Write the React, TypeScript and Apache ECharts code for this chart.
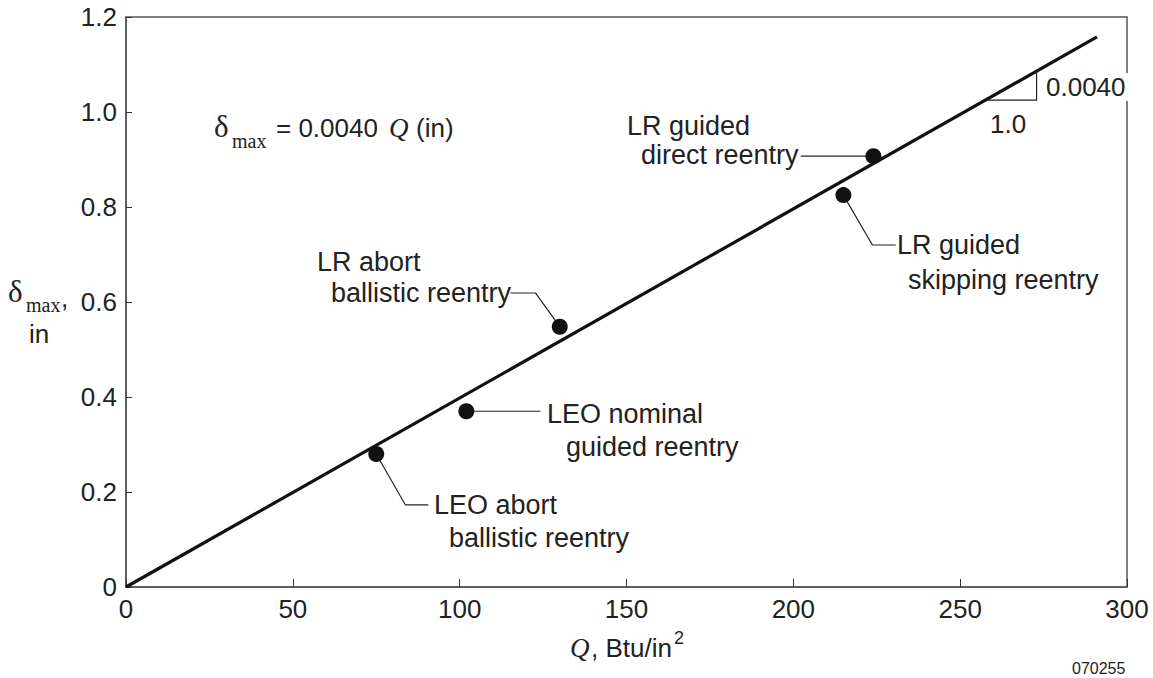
import React, { useEffect, useRef } from "react";
import * as echarts from "echarts";

const xTicks = [0, 50, 100, 150, 200, 250, 300];
const yTicks = [0, 0.2, 0.4, 0.6, 0.8, 1.0, 1.2];
const fitLine = [[0, 0], [291, 1.158]];
const pointNames = [
  "LEO abort ballistic reentry",
  "LEO nominal guided reentry",
  "LR abort ballistic reentry",
  "LR guided skipping reentry",
  "LR guided direct reentry",
];
const pointQ = [75, 102, 130, 215, 224];
const pointDelta = [0.28, 0.37, 0.548, 0.825, 0.907];
const leaderLines = [
  [[75, 0.28], [83.7, 0.173], [90.6, 0.173]],
  [[102, 0.37], [124.2, 0.37]],
  [[130, 0.548], [122.7, 0.619], [115.2, 0.619]],
  [[215, 0.825], [223.7, 0.72], [230.7, 0.72]],
  [[202.2, 0.907], [224, 0.907]],
];
const slopeTriangle = [[258.2, 1.025], [272.9, 1.025], [272.9, 1.084]];

const SANS = "'Liberation Sans', Arial, Helvetica, sans-serif";
const SERIF = "'Liberation Serif', 'Times New Roman', serif";

function txt(text: string, x: number, y: number, size: number, font = SANS, extra: any = {}) {
  return {
    type: "text",
    x,
    y,
    z: 100,
    style: {
      text,
      fontSize: size,
      fontFamily: font,
      fill: "#222",
      textAlign: "left",
      textVerticalAlign: "middle",
      ...extra,
    },
  };
}

export default function App() {
  const ref = useRef<HTMLDivElement>(null);
  useEffect(() => {
    if (!ref.current) return;
    const chart = echarts.init(ref.current, undefined, { renderer: "svg" });
    const series: any[] = [
      {
        type: "line",
        data: fitLine,
        showSymbol: false,
        symbol: "none",
        lineStyle: { color: "#111", width: 3.2 },
        z: 3,
      },
      {
        type: "line",
        data: slopeTriangle,
        symbol: "none",
        lineStyle: { color: "#222", width: 1.2 },
        z: 3,
      },
      ...leaderLines.map((l) => ({
        type: "line",
        data: l,
        symbol: "none",
        lineStyle: { color: "#222", width: 1.2 },
        z: 3,
      })),
      {
        type: "scatter",
        data: pointQ.map((q, i) => ({ name: pointNames[i], value: [q, pointDelta[i]] })),
        symbol: "circle",
        symbolSize: 16,
        itemStyle: { color: "#111", opacity: 1 },
        z: 10,
      },
    ];
    chart.setOption({
      animation: false,
      backgroundColor: "#fff",
      grid: {
        left: 126,
        right: 26,
        top: 17,
        bottom: 91,
        show: true,
        borderColor: "#555",
        borderWidth: 1.5,
      },
      xAxis: {
        type: "value",
        min: 0,
        max: 300,
        interval: 50,
        axisLine: { show: true, lineStyle: { color: "#555", width: 1.5 } },
        axisTick: { show: true, inside: true, length: 8, lineStyle: { color: "#333" } },
        splitLine: { show: false },
        axisLabel: {
          color: "#222",
          fontSize: 26,
          fontFamily: SANS,
          margin: 9,
          formatter: (v: number) => (xTicks.includes(v) ? String(v) : ""),
        },
      },
      yAxis: {
        type: "value",
        min: 0,
        max: 1.2,
        interval: 0.2,
        axisLine: { show: true, lineStyle: { color: "#555", width: 1.5 } },
        axisTick: { show: true, inside: true, length: 6, lineStyle: { color: "#333" } },
        splitLine: { show: false },
        axisLabel: {
          color: "#222",
          fontSize: 26,
          fontFamily: SANS,
          margin: 9,
          formatter: (v: number) => {
            const t = yTicks.find((y) => Math.abs(y - v) < 1e-9);
            if (t === undefined) return "";
            return t === 0 ? "0" : t.toFixed(1);
          },
        },
      },
      series,
      graphic: [
        // equation
        txt("δ", 214, 126, 31, SERIF),
        txt("max", 232, 141, 20, SERIF),
        txt("= 0.0040", 276, 128, 26),
        txt("Q", 389, 128, 27, SERIF, { fontStyle: "italic" }),
        txt("(in)", 416, 128, 26),
        // y-axis title
        txt("δ", 8, 291, 31, SERIF),
        txt("max", 26, 305, 20, SERIF),
        txt(",", 61, 298, 26),
        txt("in", 29, 334, 26),
        // x-axis title
        txt("Q", 570, 648, 27, SERIF, { fontStyle: "italic" }),
        txt(", Btu/in", 591, 648, 26),
        txt("2", 674, 638, 18),
        // figure number
        txt("070255", 1072, 668, 16),
        // slope labels
        {
          type: "rect",
          z: 99,
          shape: { x: 1040, y: 73, width: 100, height: 28 },
          style: { fill: "#fff" },
        },
        txt("0.0040", 1046, 87, 26),
        txt("1.0", 990, 124, 26),
        // point labels
        txt("LR guided", 627, 126, 27),
        txt("direct reentry", 641, 155, 27),
        txt("LR guided", 897, 245, 27),
        txt("skipping reentry", 908, 280, 27),
        txt("LR abort", 317, 262, 27),
        txt("ballistic reentry", 331, 293, 27),
        txt("LEO nominal", 547, 414, 27),
        txt("guided reentry", 566, 447, 27),
        txt("LEO abort", 434, 505, 27),
        txt("ballistic reentry", 449, 538, 27),
      ],
    });
    return () => chart.dispose();
  }, []);
  return (
    <div
      ref={ref}
      style={{ position: "fixed", left: 0, top: 0, width: 1153, height: 678, background: "#fff" }}
    />
  );
}
